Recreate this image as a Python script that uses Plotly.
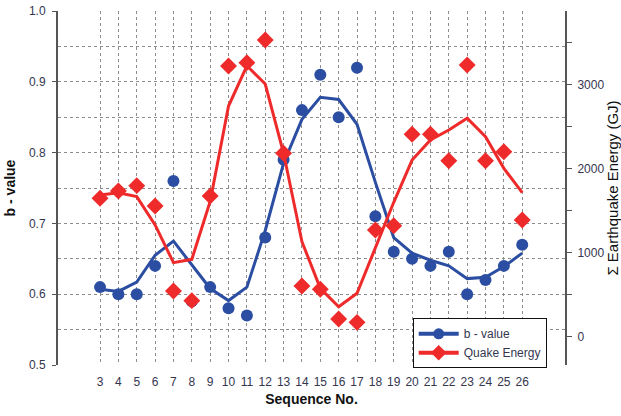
import plotly.graph_objects as go

seq = list(range(3, 27))
b_value = [0.61, 0.60, 0.60, 0.64, 0.76, 0.59, 0.61, 0.58, 0.57, 0.68, 0.79, 0.86,
           0.91, 0.85, 0.92, 0.71, 0.66, 0.65, 0.64, 0.66, 0.60, 0.62, 0.64, 0.67]
b_fit = [0.607, 0.604, 0.617, 0.655, 0.675, 0.642, 0.608, 0.591, 0.610, 0.690, 0.785, 0.847,
         0.878, 0.875, 0.840, 0.758, 0.680, 0.658, 0.648, 0.640, 0.622, 0.624, 0.639, 0.658]
energy = [1648, 1735, 1798, 1556, 544, 429, 1675, 3223, 3262, 3532, 2183, 604,
          564, 211, 171, 1270, 1321, 2410, 2410, 2095, 3235, 2095, 2202, 1389]
energy_fit = [1687, 1714, 1667, 1330, 881, 921, 1610, 2746, 3225, 3008, 2183, 1131,
              576, 357, 517, 1048, 1600, 2103, 2341, 2460, 2600, 2381, 2004, 1714]

BLUE = "#2b4ea2"
RED = "#ee2a2a"
TXT = "#35364f"

fig = go.Figure()
fig.add_trace(go.Scatter(x=seq, y=b_fit, mode="lines", line=dict(color=BLUE, width=3),
                         showlegend=False, yaxis="y"))
fig.add_trace(go.Scatter(x=seq, y=b_value, mode="markers",
                         marker=dict(color=BLUE, size=12, symbol="circle"),
                         showlegend=False, yaxis="y"))
fig.add_trace(go.Scatter(x=seq, y=energy_fit, mode="lines", line=dict(color=RED, width=3),
                         showlegend=False, yaxis="y2"))
fig.add_trace(go.Scatter(x=seq, y=energy, mode="markers",
                         marker=dict(color=RED, size=13, symbol="diamond"),
                         showlegend=False, yaxis="y2"))
fig.add_trace(go.Scatter(x=[None], y=[None], mode="lines+markers", name="b - value",
                         line=dict(color=BLUE, width=4), marker=dict(color=BLUE, size=11)))
fig.add_trace(go.Scatter(x=[None], y=[None], mode="lines+markers", name="Quake Energy",
                         line=dict(color=RED, width=4),
                         marker=dict(color=RED, size=12, symbol="diamond"), yaxis="y2"))

fig.update_layout(
    width=621, height=416,
    margin=dict(l=58, r=56, t=11, b=51, autoexpand=False),
    paper_bgcolor="white", plot_bgcolor="white",
    font=dict(family="Liberation Sans, Arial", size=12, color=TXT),
    xaxis=dict(
        range=[0.71, 28.33], tickvals=seq, ticktext=[str(s) for s in seq],
        showgrid=True, gridcolor="#8c8c8c", griddash="dot", gridwidth=1,
        zeroline=False, showline=False, ticks="", ticklabelstandoff=8, automargin=False,
        tickfont=dict(size=12, color=TXT),
        title=dict(text="<b>Sequence No.</b>", font=dict(size=14, color="#111"), standoff=6),
    ),
    yaxis=dict(
        range=[0.5, 1.0], dtick=0.1, tick0=0.5, tickformat=".1f",
        showgrid=True, gridcolor="#8c8c8c", griddash="dot", gridwidth=1,
        minor=dict(dtick=0.05, showgrid=True, gridcolor="#8c8c8c", griddash="dot", ticks=""),
        zeroline=False, showline=True, linecolor="#555", linewidth=2, automargin=False,
        ticks="outside", ticklen=4, tickcolor="#555", ticklabelstandoff=4,
        tickfont=dict(size=12, color=TXT),
        title=dict(text="<b>b - value</b>", font=dict(size=14, color="#111"), standoff=10),
    ),
    yaxis2=dict(
        overlaying="y", side="right", range=[-337, 3877], automargin=False,
        tickvals=[0, 1000, 2000, 3000], showgrid=False, zeroline=False,
        minor=dict(tickvals=[500, 1500, 2500, 3500], ticks="outside", ticklen=5, tickcolor="#555"),
        showline=True, linecolor="#555", linewidth=2,
        ticks="outside", ticklen=5, tickcolor="#555", ticklabelstandoff=3,
        tickfont=dict(size=12, color=TXT),
        title=dict(text="Σ Earthquake Energy (GJ)", font=dict(size=15, color="#111"), standoff=6),
    ),
    legend=dict(
        x=0.6996, y=0.132, xanchor="left", yanchor="top",
        bgcolor="white", bordercolor="#111", borderwidth=1,
        font=dict(size=12, color=TXT), tracegroupgap=0, itemwidth=40,
    ),
)

fig.write_html("out.html")
